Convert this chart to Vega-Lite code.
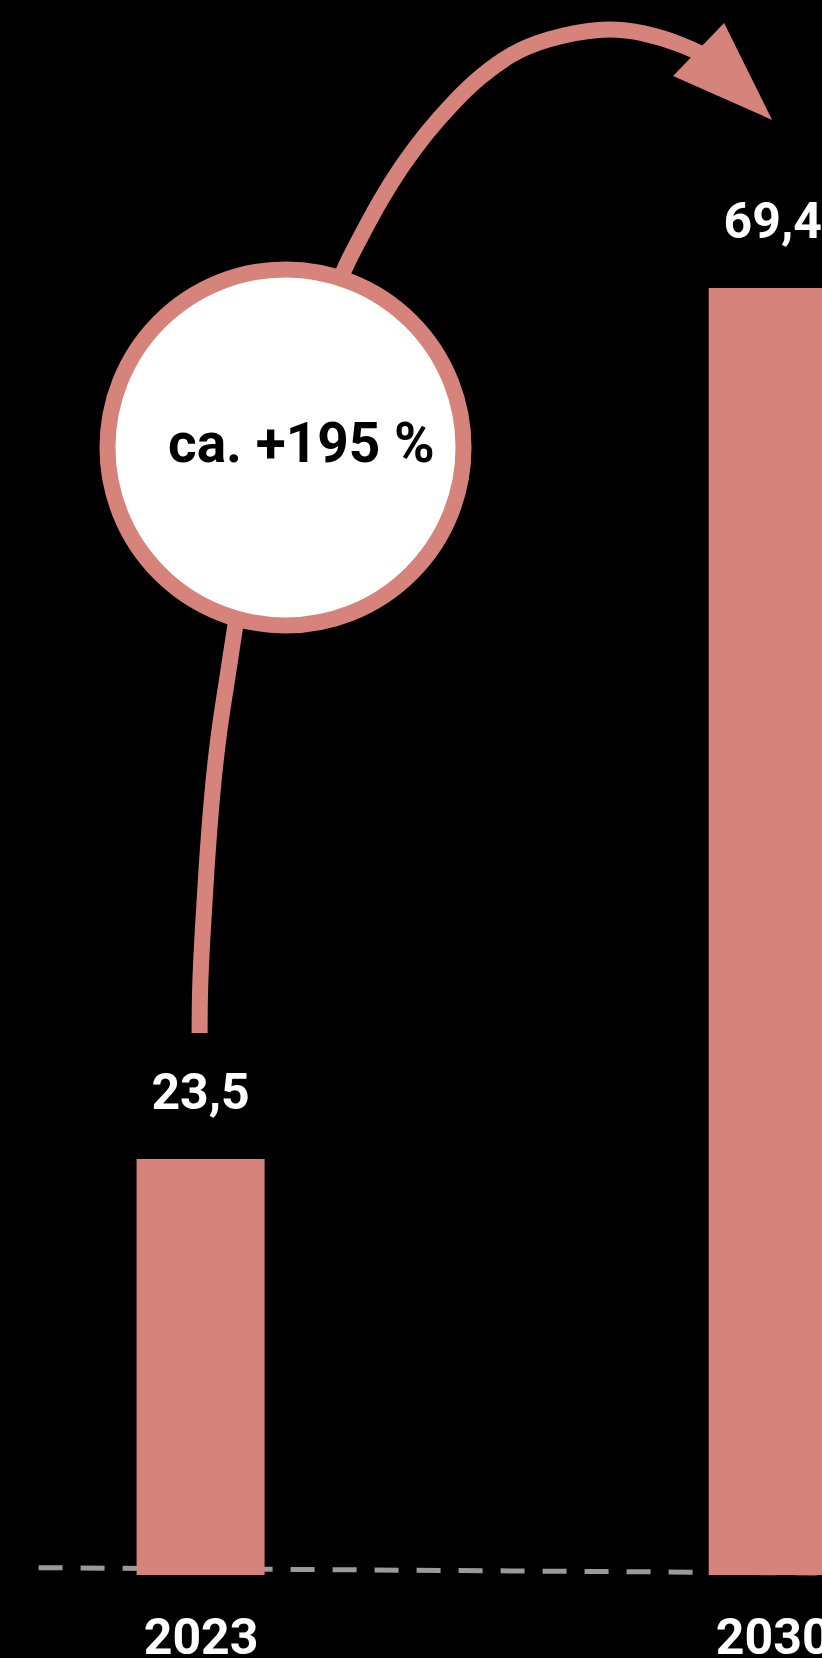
{
  "$schema": "https://vega.github.io/schema/vega-lite/v6.json",
  "width": 822,
  "height": 1575,
  "autosize": {"type": "none"},
  "padding": {"top": 0, "left": 0, "right": 0, "bottom": 83},
  "background": "#000000",
  "config": {"view": {"stroke": null}, "font": "Roboto"},
  "datasets": {
    "bars": [
      {"year": 2023, "value": 23.5, "label": "23,5"},
      {"year": 2030, "value": 69.4, "label": "69,4"}
    ],
    "arrow": [
      {"seg": "a", "order": 1, "year": 2022.988, "value": 30.14},
      {"seg": "a", "order": 2, "year": 2022.99, "value": 32.5},
      {"seg": "a", "order": 3, "year": 2023.024, "value": 35.41},
      {"seg": "a", "order": 4, "year": 2023.073, "value": 38.89},
      {"seg": "a", "order": 5, "year": 2023.133, "value": 42.42},
      {"seg": "a", "order": 6, "year": 2023.218, "value": 45.95},
      {"seg": "a", "order": 7, "year": 2023.35, "value": 49.43},
      {"seg": "a", "order": 8, "year": 2023.423, "value": 51.64},
      {"seg": "a", "order": 9, "year": 2023.508, "value": 53.49},
      {"seg": "b", "order": 1, "year": 2024.656, "value": 69.29},
      {"seg": "b", "order": 2, "year": 2024.765, "value": 70.51},
      {"seg": "b", "order": 3, "year": 2024.982, "value": 72.3},
      {"seg": "b", "order": 4, "year": 2025.2, "value": 74.04},
      {"seg": "b", "order": 5, "year": 2025.453, "value": 75.78},
      {"seg": "b", "order": 6, "year": 2025.756, "value": 77.57},
      {"seg": "b", "order": 7, "year": 2026.118, "value": 79.31},
      {"seg": "b", "order": 8, "year": 2026.408, "value": 80.52},
      {"seg": "b", "order": 9, "year": 2026.807, "value": 81.79},
      {"seg": "b", "order": 10, "year": 2027.218, "value": 82.52},
      {"seg": "b", "order": 11, "year": 2027.895, "value": 83.15},
      {"seg": "b", "order": 12, "year": 2028.427, "value": 82.89},
      {"seg": "b", "order": 13, "year": 2028.91, "value": 82.21},
      {"seg": "b", "order": 14, "year": 2029.212, "value": 81.57}
    ],
    "head": [{"year": 2029.381, "value": 80.79}],
    "bubble": [{"year": 2024.039, "value": 61.0}],
    "bubbleText": [{"year": 2024.233, "value": 60.25, "text": "ca. +195 %"}],
    "baseline": [{"year": 2021.018, "value": 1.963, "year2": 2030.54, "value2": 1.683}]
  },
  "encoding": {
    "x": {
      "field": "year",
      "type": "quantitative",
      "scale": {"domain": [2020.607, 2030.542], "nice": false, "zero": false},
      "axis": {
        "values": [2023, 2030],
        "format": "d",
        "domain": false,
        "ticks": false,
        "tickSize": 0,
        "grid": false,
        "title": null,
        "labelFont": "Roboto",
        "labelFontSize": 50,
        "labelFontWeight": "bold",
        "labelColor": "#ffffff",
        "labelBaseline": "alphabetic",
        "labelPadding": 78,
        "labelFlush": false,
        "labelOverlap": false,
        "labelBound": false
      }
    },
    "y": {
      "field": "value",
      "type": "quantitative",
      "scale": {"domain": [1.578, 84.58], "nice": false, "zero": false},
      "axis": null
    }
  },
  "layer": [
    {
      "data": {"name": "baseline"},
      "mark": {"type": "rule", "color": "#9a9a9a", "strokeWidth": 5, "strokeDash": [24, 18]},
      "encoding": {
        "x2": {"field": "year2"},
        "y2": {"field": "value2"}
      }
    },
    {
      "data": {"name": "bars"},
      "mark": {"type": "bar", "color": "#D6837C", "size": 128},
      "encoding": {
        "y2": {"datum": 1.578}
      }
    },
    {
      "data": {"name": "bars"},
      "mark": {"type": "text", "color": "#ffffff", "font": "Roboto", "fontSize": 50, "fontWeight": "bold", "baseline": "alphabetic", "align": "center", "dy": -50},
      "encoding": {"text": {"field": "label"}}
    },
    {
      "data": {"name": "arrow"},
      "mark": {"type": "line", "color": "#D6837C", "strokeWidth": 16, "strokeCap": "butt", "interpolate": "basis"},
      "encoding": {
        "detail": {"field": "seg"},
        "order": {"field": "order", "type": "quantitative"}
      }
    },
    {
      "data": {"name": "head"},
      "mark": {"type": "point", "filled": true, "opacity": 1, "color": "#D6837C", "size": 14400, "shape": "M0.033,-0.817L0.833,0.8L-0.817,0.067Z"}
    },
    {
      "data": {"name": "bubble"},
      "mark": {"type": "point", "shape": "circle", "filled": false, "fill": "#ffffff", "fillOpacity": 1, "opacity": 1, "stroke": "#D6837C", "strokeWidth": 16, "size": 126736}
    },
    {
      "data": {"name": "bubbleText"},
      "mark": {"type": "text", "color": "#000000", "font": "Roboto", "fontSize": 55, "fontWeight": "bold", "baseline": "alphabetic", "align": "center"},
      "encoding": {"text": {"field": "text"}}
    }
  ]
}
